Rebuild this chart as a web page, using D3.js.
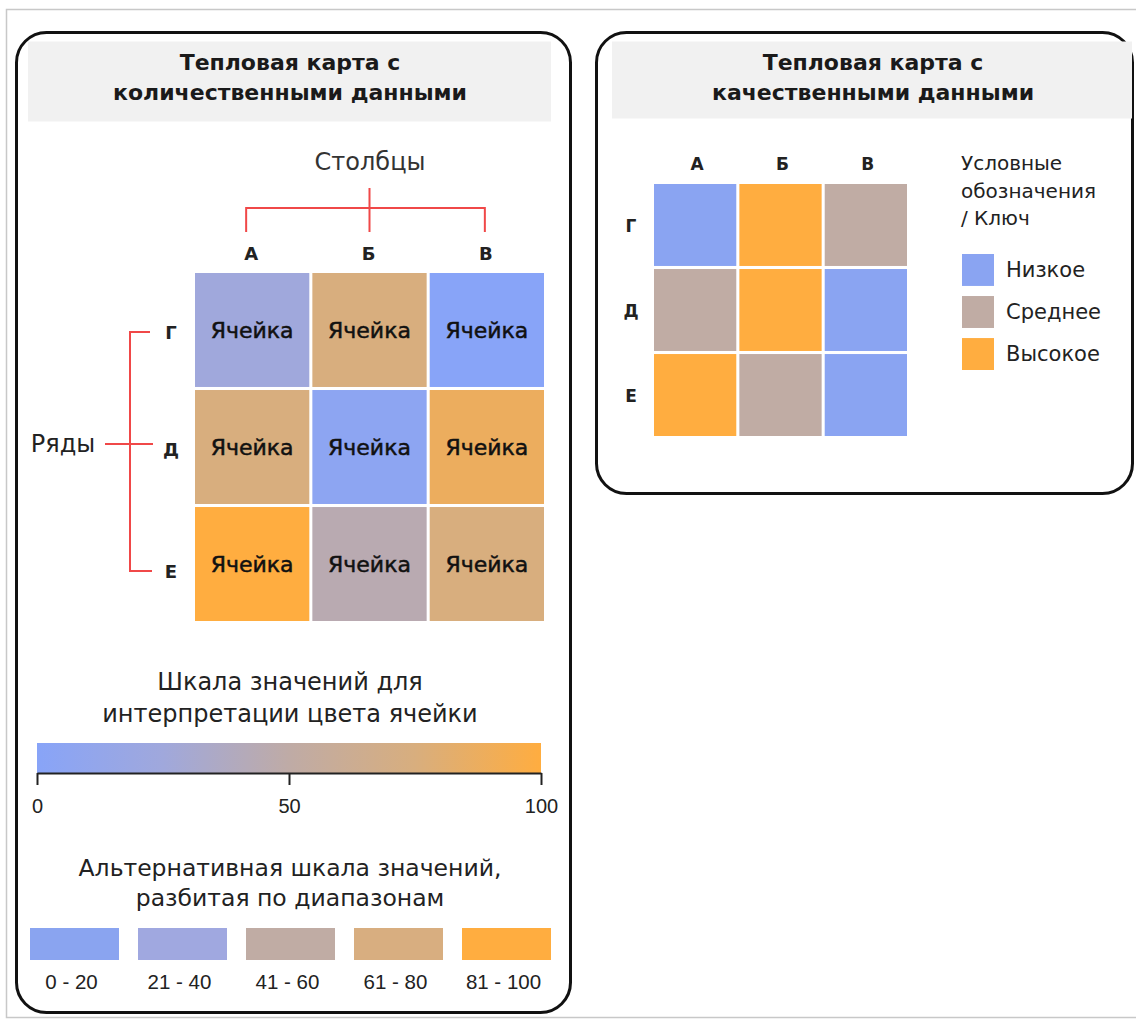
<!DOCTYPE html>
<html><head><meta charset="utf-8">
<script src="https://cdn.jsdelivr.net/npm/d3@7"></script>
<style>body{margin:0;background:#fff}svg{display:block;font-family:"DejaVu Sans",sans-serif}</style>
</head><body>
<svg id="c" width="1136" height="1021"></svg>
<script>
// ---- data ----
const columns = ["А", "Б", "В"];
const rows = ["Г", "Д", "Е"];
const quantValues = [
  [25, 75, 0],
  [75, 5, 88],
  [100, 45, 75]
];
const cellLabel = "Ячейка";
const gradStops = [0, 25, 50, 75, 100];
const gradColors = ["#88a4f8", "#a0a8dc", "#bfaba6", "#d8ae7e", "#ffad40"];
const scaleTicks = [0, 50, 100];
const binLabels = ["0 - 20", "21 - 40", "41 - 60", "61 - 80", "81 - 100"];
const binColors = ["#8aa4f0", "#a0a8e0", "#c0aca4", "#d8ae80", "#ffad40"];
const qualCategories = ["Низкое", "Среднее", "Высокое"];
const qualColors = ["#8aa4f2", "#c0aca4", "#ffad40"];
const qualValues = [
  ["Низкое", "Высокое", "Среднее"],
  ["Среднее", "Высокое", "Низкое"],
  ["Высокое", "Среднее", "Низкое"]
];
const leftTitle = ["Тепловая карта с", "количественными данными"];
const rightTitle = ["Тепловая карта с", "качественными данными"];
const scaleTitle = ["Шкала значений для", "интерпретации цвета ячейки"];
const binTitle = ["Альтернативная шкала значений,", "разбитая по диапазонам"];
const keyTitle = ["Условные", "обозначения", "/ Ключ"];

const svg = d3.select("#c");
const red = "#f04848";
const numFont = "Liberation Sans, Arial, sans-serif";

// outer frame
svg.append("rect").attr("x", 6.5).attr("y", 9.5).attr("width", 1140).attr("height", 1008)
  .attr("fill", "none").attr("stroke", "#c8c8c8").attr("stroke-width", 1.5);

// panels
function panel(x, y, w, h, tx, tw, th, title, cx) {
  svg.append("rect").attr("x", x).attr("y", y).attr("width", w).attr("height", h)
    .attr("rx", 30).attr("fill", "#fff").attr("stroke", "#111").attr("stroke-width", 3);
  svg.append("rect").attr("x", tx).attr("y", y + 9).attr("width", tw).attr("height", th).attr("fill", "#f1f1f1");
  svg.append("text").attr("x", cx).attr("text-anchor", "middle")
    .attr("font-weight", "bold").attr("font-size", 22).attr("fill", "#1a1a1a")
    .selectAll("tspan").data(title).join("tspan")
    .attr("x", cx).attr("y", (d, i) => y + 37 + i * 30).text(d => d);
}
panel(16.5, 32.5, 554, 980, 28, 523, 80, leftTitle, 290);
panel(596.5, 32.5, 536, 461, 612, 520, 77, rightTitle, 873);

// ---- left heatmap ----
const xL = d3.scaleBand().domain(columns).range([195, 544]).paddingInner(0.026);
const yL = d3.scaleBand().domain(rows).range([273, 621]).paddingInner(0.026);
const color = d3.scaleLinear().domain(gradStops).range(gradColors);

const cells = [];
rows.forEach((r, i) => columns.forEach((c, j) => cells.push({ r, c, v: quantValues[i][j] })));
const gL = svg.append("g");
gL.selectAll("rect").data(cells).join("rect")
  .attr("x", d => xL(d.c)).attr("y", d => yL(d.r))
  .attr("width", xL.bandwidth()).attr("height", yL.bandwidth())
  .attr("fill", d => color(d.v));
gL.selectAll("text").data(cells).join("text")
  .attr("x", d => xL(d.c) + xL.bandwidth() / 2).attr("y", d => yL(d.r) + yL.bandwidth() / 2 + 8)
  .attr("text-anchor", "middle").attr("font-size", 22).attr("fill", "#111")
  .attr("stroke", "#111").attr("stroke-width", 0.5).text(cellLabel);

// column header + bracket
svg.append("text").attr("x", 370).attr("y", 170).attr("text-anchor", "middle")
  .attr("font-size", 24).attr("fill", "#333").text("Столбцы");
const cx0 = xL(columns[0]) + xL.bandwidth() / 2 - 6, cx2 = xL(columns[2]) + xL.bandwidth() / 2 - 2;
const cmid = xL(columns[1]) + xL.bandwidth() / 2;
svg.append("path").attr("d", `M${cx0},232V208H${cx2}V232M${cmid},188V232`)
  .attr("fill", "none").attr("stroke", red).attr("stroke-width", 2);
svg.selectAll(".colL").data(columns).join("text").attr("class", "colL")
  .attr("x", d => xL(d) + xL.bandwidth() / 2 - 1).attr("y", 260).attr("text-anchor", "middle")
  .attr("font-size", 18).attr("font-weight", "bold").attr("fill", "#222").text(d => d);

// row labels + bracket
svg.selectAll(".rowL").data(rows).join("text").attr("class", "rowL")
  .attr("x", 171).attr("y", (d, i) => yL(d) + yL.bandwidth() / 2 + 9 + (i === 2 ? 5 : 0))
  .attr("text-anchor", "middle").attr("font-size", 18).attr("font-weight", "bold").attr("fill", "#222").text(d => d);
const ry0 = yL(rows[0]) + yL.bandwidth() / 2 + 2, ry1 = yL(rows[1]) + yL.bandwidth() / 2 - 3, ry2 = yL(rows[2]) + yL.bandwidth() / 2 + 7;
svg.append("path").attr("d", `M150,${ry0}H130V${ry2}H152M105,${ry1}H153`)
  .attr("fill", "none").attr("stroke", red).attr("stroke-width", 2);
svg.append("text").attr("x", 63).attr("y", ry1 + 8).attr("text-anchor", "middle")
  .attr("font-size", 24).attr("fill", "#222").text("Ряды");

// ---- continuous scale ----
svg.append("text").attr("text-anchor", "middle").attr("font-size", 24).attr("fill", "#222")
  .selectAll("tspan").data(scaleTitle).join("tspan")
  .attr("x", 290).attr("y", (d, i) => 690 + i * 32).text(d => d);
const xs = d3.scaleLinear().domain([0, 100]).range([37, 541]);
const grad = svg.append("defs").append("linearGradient").attr("id", "g1");
grad.selectAll("stop").data(gradStops).join("stop")
  .attr("offset", d => d + "%").attr("stop-color", d => color(d));
svg.append("rect").attr("x", xs(0)).attr("y", 743).attr("width", xs(100) - xs(0)).attr("height", 30)
  .attr("fill", "url(#g1)");
const ax = svg.append("g").attr("transform", "translate(0,773)")
  .call(d3.axisBottom(xs).tickValues(scaleTicks).tickSize(12).tickSizeOuter(0).tickPadding(14));
ax.select(".domain").attr("stroke", "#222").attr("stroke-width", 2);
ax.selectAll(".tick line").attr("stroke", "#222").attr("stroke-width", 2);
ax.selectAll(".tick text").attr("font-size", 20).attr("fill", "#222").attr("font-family", numFont);

// ---- binned scale ----
svg.append("text").attr("text-anchor", "middle").attr("font-size", 23.5).attr("fill", "#222")
  .selectAll("tspan").data(binTitle).join("tspan")
  .attr("x", 290).attr("y", (d, i) => 876 + i * 30).text(d => d);
const xb = d3.scaleBand().domain(binLabels).range([30, 551]).paddingInner(0.176);
svg.selectAll(".bin").data(binLabels).join("rect").attr("class", "bin")
  .attr("x", d => xb(d)).attr("y", 928).attr("width", xb.bandwidth()).attr("height", 32)
  .attr("fill", (d, i) => binColors[i]);
svg.selectAll(".binT").data(binLabels).join("text").attr("class", "binT")
  .attr("x", d => xb(d) + xb.bandwidth() / 2 - 3).attr("y", 989).attr("text-anchor", "middle")
  .attr("font-size", 20.5).attr("fill", "#222").attr("font-family", numFont).text(d => d);

// ---- right qualitative heatmap ----
const xR = d3.scaleBand().domain(columns).range([654, 907]).paddingInner(0.036);
const yR = d3.scaleBand().domain(rows).range([184, 436]).paddingInner(0.036);
const qColor = d3.scaleOrdinal().domain(qualCategories).range(qualColors);
const qcells = [];
rows.forEach((r, i) => columns.forEach((c, j) => qcells.push({ r, c, v: qualValues[i][j] })));
svg.append("g").selectAll("rect").data(qcells).join("rect")
  .attr("x", d => xR(d.c)).attr("y", d => yR(d.r))
  .attr("width", xR.bandwidth()).attr("height", yR.bandwidth())
  .attr("fill", d => qColor(d.v));
svg.selectAll(".colR").data(columns).join("text").attr("class", "colR")
  .attr("x", d => xR(d) + xR.bandwidth() / 2 + 2).attr("y", 170).attr("text-anchor", "middle")
  .attr("font-size", 17).attr("font-weight", "bold").attr("fill", "#222").text(d => d);
svg.selectAll(".rowR").data(rows).join("text").attr("class", "rowR")
  .attr("x", 631).attr("y", d => yR(d) + yR.bandwidth() / 2 + 7)
  .attr("text-anchor", "middle").attr("font-size", 17).attr("font-weight", "bold").attr("fill", "#222").text(d => d);

// key
svg.append("text").attr("font-size", 20).attr("fill", "#222")
  .selectAll("tspan").data(keyTitle).join("tspan")
  .attr("x", 961).attr("y", (d, i) => 170 + i * 27.5).text(d => d);
const yk = d3.scaleBand().domain(qualCategories).range([254, 370]).paddingInner(0.24);
svg.selectAll(".key").data(qualCategories).join("rect").attr("class", "key")
  .attr("x", 962).attr("y", d => yk(d)).attr("width", 32).attr("height", yk.bandwidth())
  .attr("fill", d => qColor(d));
svg.selectAll(".keyT").data(qualCategories).join("text").attr("class", "keyT")
  .attr("x", 1006).attr("y", d => yk(d) + yk.bandwidth() / 2 + 7)
  .attr("font-size", 21).attr("fill", "#222").text(d => d);
</script>
</body></html>
